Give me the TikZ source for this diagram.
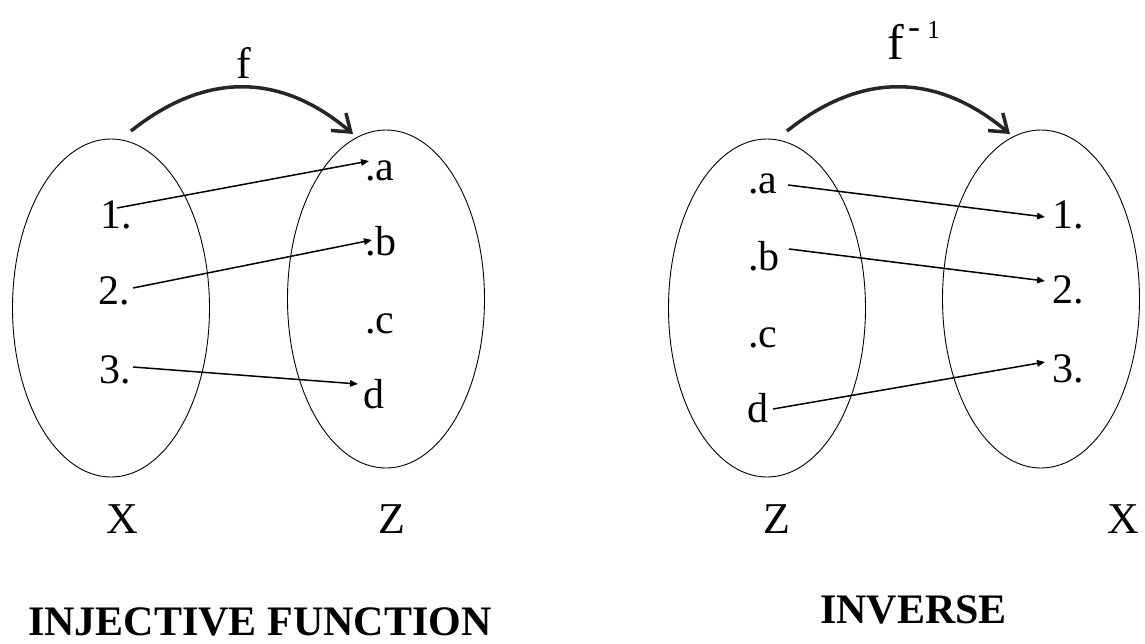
\documentclass[tikz,border=0pt]{standalone}
\usepackage{fontspec}
\setmainfont{Liberation Serif}
\usetikzlibrary{arrows.meta,shapes.geometric}
\begin{document}
\begin{tikzpicture}[x=1pt,y=-1pt,
  set/.style={draw,ellipse,line width=0.9pt,minimum width=197pt,minimum height=338pt,inner sep=0pt},
  lbl/.style={inner sep=0pt,anchor=base west,font=\fontsize{42}{48}\selectfont},
  setname/.style={lbl,font=\fontsize{44}{50}\selectfont},
  ttl/.style={inner sep=0pt,anchor=base west,text depth=0pt,font=\fontsize{42}{50}\selectfont\bfseries},
  maparrow/.style={line width=1.5pt,-{Triangle[length=8pt,width=6.5pt]}},
  bigarrow/.style={line width=3.5pt,-{Straight Barb[length=16pt,width=23pt]},draw=black!85}]
\useasboundingbox (0,0) rectangle (1145,643);
% sets
\node[set] (X1) at (111,308) {};
\node[set] (Z1) at (386,299) {};
\node[set] (Z2) at (767,308) {};
\node[set] (X2) at (1041,299) {};
% left elements
\node[lbl] (n1) at (100,228) {1.};
\node[lbl] (n2) at (98,304) {2.};
\node[lbl] (n3) at (99,383) {3.};
\node[lbl] (la) at (365,180) {.a};
\node[lbl] (lb) at (365,255) {.b};
\node[lbl] (lc) at (365,333) {.c};
\node[lbl] (ld) at (363,408) {d};
% right elements
\node[lbl] (ra) at (748,193) {.a};
\node[lbl] (rb) at (748,270) {.b};
\node[lbl] (rc) at (748,347) {.c};
\node[lbl] (rd) at (747,422) {d};
\node[lbl] (m1) at (1052,228) {1.};
\node[lbl] (m2) at (1052,303) {2.};
\node[lbl] (m3) at (1052,382) {3.};
% set names
\node[setname] (tX1) at (106,533) {X};
\node[setname] (tZ1) at (378,533) {Z};
\node[setname] (tZ2) at (763,533) {Z};
\node[setname] (tX2) at (1107,533) {X};
% titles
\node[ttl] (t1) at (28,635) {INJECTIVE FUNCTION};
\node[ttl] (t2) at (820,623) {INVERSE};
% function labels
\node[lbl,anchor=base,font=\fontsize{44}{50}\selectfont] (f) at (244,78) {f};
\node[lbl,font=\fontsize{50}{56}\selectfont] (finv) at (887,59) {f};
\node[lbl] (finvexp) at (908,38) {{\fontsize{36}{40}\selectfont -}\kern7pt{\fontsize{26}{30}\selectfont 1}};
% arrow end points
\coordinate (s1) at (117,208);  \coordinate (e1) at (369,161);
\coordinate (s2) at (133,288);  \coordinate (e2) at (372,240);
\coordinate (s3) at (133,367);  \coordinate (e3) at (358,384);
\coordinate (sa) at (788,185);  \coordinate (ea) at (1045,217);
\coordinate (sb) at (789,249);  \coordinate (eb) at (1045,281);
\coordinate (sd) at (773,409);  \coordinate (ed) at (1045,362);
\draw[maparrow] (s1) -- (e1);
\draw[maparrow] (s2) -- (e2);
\draw[maparrow] (s3) -- (e3);
\draw[maparrow] (sa) -- (ea);
\draw[maparrow] (sb) -- (eb);
\draw[maparrow] (sd) -- (ed);
% big curved arrows
\coordinate (fs) at (131,131); \coordinate (fe) at (353,134);
\coordinate (gs) at (787,131); \coordinate (ge) at (1010,134);
\draw[bigarrow] (fs) .. controls (205,72) and (280,72) .. (fe);
\draw[bigarrow] (gs) .. controls (861,72) and (936,72) .. (ge);
\end{tikzpicture}
\end{document}
